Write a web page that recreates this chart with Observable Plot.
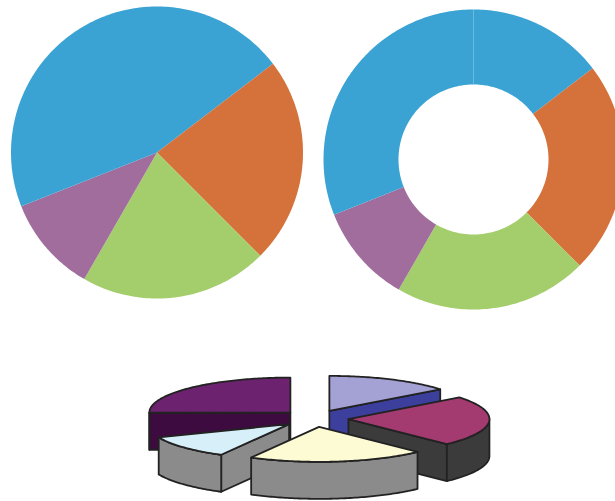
<!DOCTYPE html>
<html><head><meta charset="utf-8">
<script src="https://cdn.jsdelivr.net/npm/d3@7"></script>
<script src="https://cdn.jsdelivr.net/npm/@observablehq/plot@0.6"></script>
<style>body{margin:0;background:#fff;overflow:hidden} #chart svg{display:block}</style>
</head><body><div id="chart"></div>
<script>
// ---- data: flat pie & donut (same series) ----
const categories = ["Q1a", "Q2", "Q3", "Q4", "Q1b"];
const shares = [14.6, 22.9, 20.8, 10.7, 31.0];
const sliceColors = ["#3aa3d3", "#d5723b", "#a4ce6c", "#a06d9d", "#3aa3d3"];

// ---- data: exploded 3D pie (one wedge is missing from the picture) ----
const categories3d = ["Lavender", "Magenta", "Cream", "Ice", "(missing)", "Plum"];
const shares3d = [14.4, 23.3, 20.3, 10.8, 6.1, 25.1];
const topColors3d = ["#a4a1d4", "#a33a70", "#fcfbd3", "#d7eff8", null, "#6d2270"];
const sideColors3d = ["#3d3f9d", "#3b3b3b", "#8b8b8b", "#8b8b8b", null, "#3e0b40"];

// ---- geometry helpers (layout, not data) ----
const rad = Math.PI / 180;
function angles(vals) {
  const tot = d3.sum(vals); let a = 0;
  return vals.map(v => { const s = a; a += v / tot * 360; return [s, a]; });
}
function arcPts(cx, cy, rx, ry, a0, a1) {
  const n = Math.max(2, Math.ceil(Math.abs(a1 - a0)));
  return d3.range(n + 1).map(i => {
    const t = (a0 + (a1 - a0) * i / n) * rad;
    return [cx + rx * Math.sin(t), cy - ry * Math.cos(t)];
  });
}

const pieRows = [], donutRows = [];
angles(shares).forEach(([a0, a1], i) => {
  const pts = [[156.5, 152], ...arcPts(156.5, 152, 146, 146, a0, a1)];
  pts.forEach(([x, y]) => pieRows.push({id: "pie-" + categories[i], x, y, fill: sliceColors[i]}));
});
angles(shares).forEach(([a0, a1], i) => {
  const pts = [...arcPts(473, 159, 150, 150, a0, a1), ...arcPts(473, 159, 75, 75, a1, a0)];
  pts.forEach(([x, y]) => donutRows.push({id: "donut-" + categories[i], x, y, fill: sliceColors[i]}));
});

// exploded 3D pie
const C3 = {x: 314, y: 418, rx: 141, ry: 35, h: 37, explode: 34};
const faces = [];
const sl = angles(shares3d).map(([a0, a1], i) => ({i, a0, a1, m: (a0 + a1) / 2}))
  .filter(d => topColors3d[d.i]);
sl.sort((p, q) => -Math.cos(p.m * rad) + Math.cos(q.m * rad));
sl.forEach(({i, a0, a1, m}) => {
  const ax = C3.x + C3.explode * Math.sin(m * rad);
  const ay = C3.y - C3.explode * (C3.ry / C3.rx) * Math.cos(m * rad);
  const P = t => [ax + C3.rx * Math.sin(t * rad), ay - C3.ry * Math.cos(t * rad)];
  const down = ([x, y]) => [x, y + C3.h];
  const add = (name, pts, fill) => pts.forEach(([x, y]) => faces.push({id: categories3d[i] + "-" + name, x, y, fill}));
  if (Math.sin(a0 * rad) < -1e-6) {
    const o = P(a0);
    add("start", [[ax, ay], o, down(o), down([ax, ay])], sideColors3d[i]);
  }
  if (Math.sin(a1 * rad) > 1e-6) {
    const o = P(a1);
    add("end", [[ax, ay], o, down(o), down([ax, ay])], sideColors3d[i]);
  }
  const w0 = Math.max(a0, 90), w1 = Math.min(a1, 270);
  if (w1 > w0) {
    const top = arcPts(ax, ay, C3.rx, C3.ry, w0, w1);
    add("wall", [...top, ...top.slice().reverse().map(down)], sideColors3d[i]);
  }
  add("top", [[ax, ay], ...arcPts(ax, ay, C3.rx, C3.ry, a0, a1)], topColors3d[i]);
});

const chart = Plot.plot({
  width: 615, height: 501, margin: 0,
  x: {domain: [0, 615], range: [0, 615], axis: null},
  y: {domain: [0, 501], range: [0, 501], axis: null},
  color: {type: "identity"},
  marks: [
    Plot.line(pieRows, {x: "x", y: "y", z: "id", fill: "fill", stroke: null, curve: "linear-closed"}),
    Plot.line(donutRows, {x: "x", y: "y", z: "id", fill: "fill", stroke: null, curve: "linear-closed"}),
    Plot.line(faces, {x: "x", y: "y", z: "id", fill: "fill", stroke: "#222", strokeWidth: 1.8, strokeLinejoin: "round", curve: "linear-closed"})
  ]
});
document.getElementById("chart").append(chart);
</script></body></html>
